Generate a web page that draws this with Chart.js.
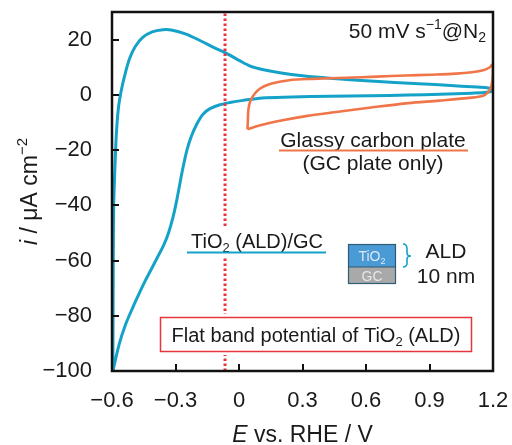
<!DOCTYPE html>
<html>
<head>
<meta charset="utf-8">
<script src="https://cdn.jsdelivr.net/npm/chart.js@4"></script>
<style>
  html, body { margin: 0; padding: 0; background: #fff; }
</style>
</head>
<body>
<canvas id="cv" width="512" height="445"></canvas>
<script>
// axis ticks
const X_TICKS = [-0.6, -0.3, 0, 0.3, 0.6, 0.9, 1.2];
const Y_TICKS = [-100, -80, -60, -40, -20, 0, 20];
const X_RANGE = [-0.6, 1.2];
const Y_RANGE = [-100, 30];

// flat band potential of TiO2 (ALD), V vs RHE
const FLAT_BAND_E = -0.066;

// TiO2 (ALD)/GC, one full cycle starting at the cathodic end
const TIO2_E = [-0.596, -0.595, -0.594, -0.592, -0.587, -0.58, -0.57, -0.555, -0.535, -0.515,
  -0.49, -0.455, -0.41, -0.36, -0.32, -0.25, -0.18, -0.12, -0.066, 0.0,
  0.05, 0.11, 0.2, 0.3, 0.43, 0.62, 0.85, 1.0, 1.1, 1.17,
  1.195, 1.198, 1.17, 1.1, 0.95, 0.8, 0.62, 0.43, 0.25, 0.11,
  0.02, -0.043, -0.09, -0.137, -0.17, -0.198, -0.225, -0.246, -0.265, -0.279,
  -0.295, -0.312, -0.333, -0.358, -0.385, -0.412, -0.442, -0.472, -0.503, -0.535,
  -0.565, -0.596];
const TIO2_I = [-100, -80, -60, -40, -28, -15, -5, 2, 8.5, 13.5,
  17.5, 20.8, 22.8, 23.6, 23.5, 22, 19.5, 17.2, 15.3, 12.5,
  10.5, 9.2, 7.9, 6.9, 6.0, 5.0, 4.0, 3.4, 2.9, 2.6,
  2.2, 1.4, 0.9, 0.6, 0.2, -0.1, -0.3, -0.5, -0.8, -1.1,
  -2.0, -2.8, -3.6, -5, -7, -10.4, -15, -20, -26.5, -32,
  -38.5, -44.4, -50, -54.8, -58.8, -62.8, -67.2, -72, -77.2, -83,
  -90, -100];

// bare glassy carbon plate
const GC_E = [0.04, 0.042, 0.045, 0.055, 0.075, 0.1, 0.15, 0.236, 0.35, 0.505,
  0.65, 0.789, 0.9, 1.025, 1.1, 1.153, 1.185, 1.197, 1.2, 1.198,
  1.19, 1.175, 1.153, 1.1, 0.945, 0.8, 0.633, 0.45, 0.316, 0.2,
  0.1, 0.04];
const GC_I = [-12.5, -9, -5, -2, 0.5, 2.3, 4, 5.3, 5.8, 6.2,
  6.6, 7.0, 7.3, 7.7, 8.2, 8.9, 10, 11, 9.5, 6,
  2.6, 0.8, -0.3, -1.0, -2.1, -3, -4.5, -6.3, -7.7, -9.3,
  -11, -12.5];

const BLUE = '#14a2c9';
const ORANGE = '#f0764a';
const RED = '#e8343d';
const FONT = '"Liberation Sans", Arial, sans-serif';

const toXY = (xs, ys) => xs.map((x, i) => ({ x: x, y: ys[i] }));
const fmt = v => {
  const s = (Math.round(v * 10) / 10).toString();
  return v < 0 ? '\u2212' + s.slice(1) : s;
};
// fixed axis box, no extra room for the end labels
const pinBox = (s, w, h) => {
  if (w) s.width = w;
  if (h) s.height = h;
  s.paddingLeft = s.paddingRight = s.paddingTop = s.paddingBottom = 0;
};

// text made of plain / italic / superscript / subscript runs
function runFont(mode, size) {
  const small = mode === 'sup' || mode === 'sub';
  return (mode === 'i' ? 'italic ' : '') + (small ? Math.round(size * 0.65) : size) + 'px ' + FONT;
}
function drawRich(ctx, parts, x, y, align, size, color) {
  ctx.save();
  ctx.fillStyle = color || '#1a1a1a';
  ctx.textBaseline = 'alphabetic';
  ctx.textAlign = 'left';
  let total = 0;
  parts.forEach(p => { ctx.font = runFont(p[1], size); total += ctx.measureText(p[0]).width; });
  let cx = align === 'center' ? x - total / 2 : align === 'right' ? x - total : x;
  parts.forEach(p => {
    ctx.font = runFont(p[1], size);
    let dy = 0;
    if (p[1] === 'sup') dy = -size * 0.42;
    if (p[1] === 'sub') dy = size * 0.18;
    ctx.fillText(p[0], cx, y + dy);
    cx += ctx.measureText(p[0]).width;
  });
  ctx.restore();
  return total;
}

const decor = {
  id: 'decor',
  afterDraw(chart) {
    const ctx = chart.ctx;
    const a = chart.chartArea;
    const xs = chart.scales.x, ys = chart.scales.y;

    // label for the TiO2 curve, on a white patch
    ctx.save();
    ctx.fillStyle = '#fff';
    ctx.fillRect(186, 227, 142, 30);
    ctx.restore();
    drawRich(ctx, [['TiO', ''], ['2', 'sub'], [' (ALD)/GC', '']], 257, 248, 'center', 20);
    ctx.save();
    ctx.strokeStyle = BLUE; ctx.lineWidth = 2;
    ctx.beginPath(); ctx.moveTo(187, 252.5); ctx.lineTo(326, 252.5); ctx.stroke();
    ctx.restore();

    // flat band box
    ctx.save();
    ctx.fillStyle = '#fff';
    ctx.fillRect(158, 314, 316, 41);
    ctx.strokeStyle = RED; ctx.lineWidth = 1.5;
    ctx.strokeRect(160.5, 317.5, 311, 34);
    ctx.restore();
    drawRich(ctx, [['Flat band potential of TiO', ''], ['2', 'sub'], [' (ALD)', '']], 316, 342, 'center', 20);

    // GC label
    drawRich(ctx, [['Glassy carbon plate', '']], 373, 147, 'center', 21);
    ctx.save();
    ctx.strokeStyle = ORANGE; ctx.lineWidth = 2;
    ctx.beginPath(); ctx.moveTo(279, 150.5); ctx.lineTo(468, 150.5); ctx.stroke();
    ctx.restore();
    drawRich(ctx, [['(GC plate only)', '']], 373, 170, 'center', 21);

    // scan rate
    drawRich(ctx, [['50 mV s', ''], ['\u22121', 'sup'], ['@N', ''], ['2', 'sub']], 486, 38, 'right', 21);

    // layer sketch
    ctx.save();
    ctx.fillStyle = '#4a9ad6';
    ctx.fillRect(348, 244, 48, 23);
    ctx.fillStyle = '#a9a9a9';
    ctx.fillRect(348, 267, 48, 17);
    ctx.strokeStyle = '#2f5b73'; ctx.lineWidth = 1.2;
    ctx.strokeRect(348.5, 244.5, 47, 39);
    ctx.beginPath(); ctx.moveTo(348, 267); ctx.lineTo(396, 267); ctx.stroke();
    ctx.restore();
    drawRich(ctx, [['TiO', ''], ['2', 'sub']], 372, 261, 'center', 14, '#dde9f4');
    drawRich(ctx, [['GC', '']], 372, 281, 'center', 14, '#e6e6e6');
    ctx.save();
    ctx.strokeStyle = BLUE; ctx.lineWidth = 1.6;
    ctx.beginPath();
    ctx.moveTo(403, 244);
    ctx.quadraticCurveTo(407, 244, 407, 249);
    ctx.lineTo(407, 253);
    ctx.quadraticCurveTo(407, 256, 411, 256);
    ctx.quadraticCurveTo(407, 256, 407, 259);
    ctx.lineTo(407, 263);
    ctx.quadraticCurveTo(407, 267, 403, 267);
    ctx.stroke();
    ctx.restore();
    drawRich(ctx, [['ALD', '']], 446, 258, 'center', 21);
    drawRich(ctx, [['10 nm', '']], 446, 283, 'center', 21);

    // frame and inward ticks
    ctx.save();
    ctx.strokeStyle = '#111';
    ctx.lineWidth = 2.5;
    ctx.strokeRect(a.left, a.top, a.right - a.left, a.bottom - a.top);
    ctx.lineWidth = 2;
    ctx.beginPath();
    X_TICKS.forEach(v => {
      const px = Math.round(xs.getPixelForValue(v));
      ctx.moveTo(px, a.bottom); ctx.lineTo(px, a.bottom - 7);
    });
    Y_TICKS.forEach(v => {
      const py = Math.round(ys.getPixelForValue(v));
      ctx.moveTo(a.left, py); ctx.lineTo(a.left + 7, py);
    });
    ctx.stroke();
    ctx.restore();

    // axis titles
    drawRich(ctx, [['E', 'i'], [' vs. RHE / V', '']], (a.left + a.right) / 2, 442, 'center', 23);
    ctx.save();
    ctx.translate(37, (a.top + a.bottom) / 2);
    ctx.rotate(-Math.PI / 2);
    drawRich(ctx, [['i', 'i'], [' / \u03bcA cm', ''], ['\u22122', 'sup']], 0, 0, 'center', 23);
    ctx.restore();
  }
};

new Chart(document.getElementById('cv'), {
  type: 'scatter',
  data: {
    datasets: [
      {
        label: 'Flat band potential',
        data: [{ x: FLAT_BAND_E, y: Y_RANGE[0] }, { x: FLAT_BAND_E, y: Y_RANGE[1] }],
        showLine: true,
        borderColor: RED,
        borderWidth: 3,
        borderDash: [2.5, 2.5],
        pointRadius: 0
      },
      {
        label: 'Glassy carbon plate',
        data: toXY(GC_E, GC_I),
        showLine: true,
        borderColor: ORANGE,
        borderWidth: 2.6,
        tension: 0.3,
        pointRadius: 0
      },
      {
        label: 'TiO2 (ALD)/GC',
        data: toXY(TIO2_E, TIO2_I),
        showLine: true,
        borderColor: BLUE,
        borderWidth: 3,
        tension: 0.3,
        pointRadius: 0
      }
    ]
  },
  options: {
    responsive: false,
    animation: false,
    events: [],
    layout: { padding: { left: 0, top: 12, right: 19, bottom: 0 } },
    plugins: { legend: { display: false }, tooltip: { enabled: false } },
    scales: {
      x: {
        type: 'linear',
        min: X_RANGE[0],
        max: X_RANGE[1],
        afterBuildTicks: s => { s.ticks = X_TICKS.map(v => ({ value: v })); },
        afterFit: s => pinBox(s, 0, 74),
        grid: { display: false, drawTicks: false },
        border: { display: false },
        ticks: {
          padding: 17,
          maxRotation: 0,
          color: '#1a1a1a',
          font: { family: FONT, size: 22 },
          callback: v => fmt(v)
        }
      },
      y: {
        type: 'linear',
        min: Y_RANGE[0],
        max: Y_RANGE[1],
        afterBuildTicks: s => { s.ticks = Y_TICKS.map(v => ({ value: v })); },
        afterFit: s => pinBox(s, 112, 0),
        grid: { display: false, drawTicks: false },
        border: { display: false },
        ticks: {
          padding: 20,
          color: '#1a1a1a',
          font: { family: FONT, size: 22 },
          callback: v => fmt(v)
        }
      }
    }
  },
  plugins: [decor]
});
</script>
</body>
</html>
